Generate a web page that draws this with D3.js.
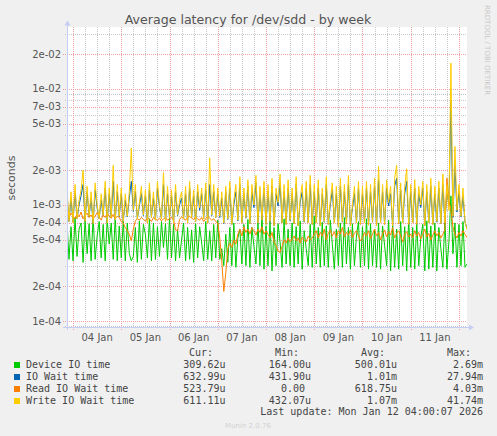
<!DOCTYPE html>
<html lang="en">
<head>
<meta charset="UTF-8">
<title>Average latency for /dev/sdd - by week</title>
<script src="https://d3js.org/d3.v7.min.js"></script>
<style>
  body { margin: 0; background: #f0f0f0; }
  svg { display: block; }
  text { font-family: "DejaVu Sans", sans-serif; fill: #555; }
  .mono { font-family: "DejaVu Sans Mono", monospace; font-size: 10px; fill: #444; white-space: pre; }
</style>
</head>
<body>
<script>
// time range of the graph, one sample per hour
const startTime = new Date(2026, 0, 3, 21);
const endTime = new Date(2026, 0, 12, 4);

// hourly averages in microseconds (Jan 3 21:00 .. Jan 12 04:00)
const deviceIO = [
  720, 340, 650,
  330, 780, 360, 620, 700, 320, 760, 380, 690, 330, 800, 340, 540, 720, 350, 680, 330, 750, 460, 700, 340, 790, 330, 660,
  350, 740, 330, 700, 380, 330, 360, 640, 320, 730, 340, 680, 560, 350, 760, 330, 700, 340, 650, 360, 720, 430, 690, 340,
  770, 350, 680, 330, 620, 350, 500, 700, 330, 640, 340, 610, 320, 690, 350, 650, 470, 330, 720, 340, 600, 330, 680, 350,
  740, 340, 420, 300, 560, 320, 640, 300, 700, 290, 520, 620, 310, 680, 300, 750, 290, 640, 440, 310, 700, 300, 820, 280,
  660, 300, 720, 270, 640, 300, 690, 480, 290, 760, 310, 620, 300, 700, 290, 650, 310, 730, 280, 600, 420, 300, 680, 290,
  800, 310, 640, 290, 710, 300, 660, 290, 740, 460, 280, 620, 300, 700, 290, 780, 310, 640, 280, 690, 300, 540, 720, 290,
  650, 300, 760, 280, 690, 300, 620, 290, 700, 280, 660, 450, 300, 740, 270, 680, 290, 620, 280, 720, 300, 650, 270, 760,
  290, 640, 280, 700, 300, 520, 680, 270, 730, 280, 660, 290, 700, 270, 640, 420, 290, 740, 280, 480, 1200, 380, 700, 290,
  680, 300, 720, 290, 310
];
const ioWait = [
  1250, 720, 1150,
  710, 1300, 760, 1000, 1200, 1500, 720, 1300, 790, 1150, 690, 1350, 940, 760, 1100, 810, 1400, 700, 1250, 770, 1600, 740, 1300, 790,
  1250, 720, 1100, 790, 1150, 1600, 880, 1300, 760, 980, 1250, 810, 1200, 700, 1350, 780, 1150, 740, 1400, 950, 760, 1500, 720, 1250,
  780, 1200, 700, 1300, 810, 1000, 1150, 760, 1250, 700, 1400, 780, 1200, 720, 1300, 900, 1250, 760, 1350, 700, 1500, 810, 1300, 780,
  1250, 780, 1150, 690, 1300, 750, 1400, 680, 1000, 1300, 730, 1500, 700, 1250, 770, 1450, 690, 1300, 950, 1550, 700, 1250, 740, 1400,
  680, 1300, 710, 1450, 660, 1250, 980, 1550, 700, 1300, 680, 1400, 730, 1250, 690, 1500, 660, 1050, 1300, 710, 1400, 700, 1500, 680,
  1300, 700, 1400, 660, 1250, 710, 1500, 680, 1000, 1350, 700, 1250, 650, 1450, 710, 1300, 690, 1500, 660, 940, 1250, 700, 1400, 680,
  1250, 700, 1400, 670, 1300, 710, 1450, 660, 1650, 700, 1300, 680, 1400, 980, 1250, 660, 1450, 1700, 690, 1350, 700, 1250, 1600, 680,
  1300, 700, 1400, 680, 1250, 950, 1400, 660, 1300, 700, 1450, 680, 1250, 710, 1400, 690, 1500, 700, 1300, 1000, 8000, 780, 2200, 870,
  1300, 790, 1200, 710, 633
];
const readWait = [
  820, 780, 850,
  800, 760, 840, 790, 870, 760, 810, 850, 780, 820, 760, 800, 860, 790, 740, 820, 780, 850, 800, 770, 830, 760, 800, 780,
  720, 700, 640, 600, 560, 490, 620, 730, 760, 740, 780, 750, 730, 770, 760, 720, 780, 750, 740, 770, 730, 760, 780, 740,
  760, 780, 740, 610, 600, 750, 790, 760, 740, 780, 800, 770, 750, 790, 760, 740, 780, 720, 760, 800, 770, 740, 760, 720,
  700, 520, 330, 180, 260, 420, 470, 430, 500, 460, 560, 620, 540, 650, 580, 620, 560, 640, 600, 550, 620, 580, 650, 560,
  600, 560, 520, 580, 480, 450, 400, 390, 440, 500, 470, 520, 480, 510, 540, 490, 520, 470, 530, 500, 480, 540, 500, 520,
  560, 600, 520, 580, 540, 620, 500, 570, 610, 540, 590, 520, 600, 560, 640, 530, 580, 550, 610, 520, 570, 600, 540, 490,
  520, 580, 540, 600, 510, 560, 620, 540, 580, 500, 560, 610, 530, 590, 550, 640, 520, 570, 600, 540, 480, 560, 590, 530,
  560, 520, 600, 540, 580, 510, 560, 620, 530, 570, 500, 550, 600, 540, 580, 520, 560, 610, 1700, 1100, 900, 650, 560, 520,
  580, 540, 600, 560, 524
];
const writeWait = [
  1400, 720, 1300,
  700, 1500, 760, 1100, 1350, 2000, 720, 1450, 800, 1300, 690, 1550, 1000, 760, 1250, 820, 1600, 700, 1400, 780, 2200, 740, 1500, 800,
  1400, 720, 1250, 800, 1300, 3100, 900, 1500, 760, 1050, 1450, 820, 1350, 700, 1550, 780, 1300, 740, 1600, 1000, 760, 1900, 720, 1450,
  780, 1350, 700, 1500, 820, 1100, 1300, 760, 1450, 700, 1600, 780, 1350, 720, 1500, 950, 1400, 760, 1550, 700, 2550, 820, 1500, 780,
  1400, 800, 1300, 700, 1450, 760, 1600, 680, 1100, 1500, 740, 1750, 700, 1400, 780, 1650, 690, 1500, 1000, 1800, 700, 1450, 740, 1600,
  680, 1500, 720, 1700, 660, 1400, 1050, 1850, 700, 1500, 680, 1650, 740, 1400, 690, 1750, 660, 1150, 1500, 720, 1600, 700, 1800, 680,
  1500, 700, 1650, 660, 1400, 720, 1750, 680, 1100, 1550, 700, 1450, 650, 1700, 720, 1500, 690, 1800, 660, 1000, 1450, 700, 1600, 680,
  1450, 700, 1600, 670, 1500, 720, 1700, 660, 2150, 700, 1500, 680, 1650, 1050, 1450, 660, 1700, 2200, 690, 1550, 700, 1450, 2050, 680,
  1500, 700, 1650, 680, 1450, 1000, 1600, 660, 1500, 700, 1700, 680, 1450, 720, 1600, 690, 1850, 700, 1500, 900, 16700, 800, 3200, 900,
  1500, 800, 1400, 720, 611
];

const seriesNames = ["Device IO time", "IO Wait time", "Read IO Wait time", "Write IO Wait time"];
const seriesColors = ["#00cc00", "#0066b3", "#ff8000", "#ffcc00"];
const curValues = ["309.62u", "632.99u", "523.79u", "611.11u"];
const minValues = ["164.00u", "431.90u", "0.00 ", "432.07u"];
const avgValues = ["500.01u", "1.01m", "618.75u", "1.07m"];
const maxValues = ["2.69m", "27.94m", "4.03m", "41.74m"];
const yTickValues = [2e-2, 1e-2, 7e-3, 5e-3, 2e-3, 1e-3, 7e-4, 5e-4, 2e-4, 1e-4];

const W = 497, H = 436;
const plot = {left: 67, right: 467, top: 27, bottom: 327};

const svg = d3.select("body").append("svg")
    .attr("width", W)
    .attr("height", H);

svg.append("rect").attr("width", W).attr("height", H).attr("fill", "#f0f0f0");
svg.append("rect")
    .attr("x", plot.left).attr("y", plot.top)
    .attr("width", plot.right - plot.left).attr("height", plot.bottom - plot.top)
    .attr("fill", "#fff");

const x = d3.scaleTime().domain([startTime, endTime]).range([plot.left, plot.right]);
const y = d3.scaleLog().domain([8.88e-5, 3.42e-2]).range([plot.bottom, plot.top]);

// horizontal grid
const minorY = [];
for (let e = -5; e <= -2; e++) {
    for (let k = 1; k <= 9; k++) {
        const v = k * Math.pow(10, e);
        if (v >= y.domain()[0] && v <= y.domain()[1] && ![1, 2, 5, 7].includes(k)) minorY.push(v);
    }
}
const grid = svg.append("g").attr("fill", "none").attr("stroke-width", 1).attr("stroke-dasharray", "1,1");
grid.selectAll(".hmin").data(minorY).enter().append("line")
    .attr("x1", plot.left - 2).attr("x2", plot.right)
    .attr("y1", d => Math.round(y(d)) + 0.5).attr("y2", d => Math.round(y(d)) + 0.5)
    .attr("stroke", "#c8c8c8");

// vertical grid
const sixHours = d3.timeHour.every(6).range(startTime, endTime).filter(d => d.getHours() !== 0);
const midnights = d3.timeDay.range(startTime, endTime);
grid.selectAll(".vmin").data(sixHours).enter().append("line")
    .attr("x1", d => Math.round(x(d)) + 0.5).attr("x2", d => Math.round(x(d)) + 0.5)
    .attr("y1", plot.top).attr("y2", plot.bottom + 2)
    .attr("stroke", "#c8c8c8");
grid.selectAll(".hmaj").data(yTickValues).enter().append("line")
    .attr("x1", plot.left - 4).attr("x2", plot.right)
    .attr("y1", d => Math.round(y(d)) + 0.5).attr("y2", d => Math.round(y(d)) + 0.5)
    .attr("stroke", "#f0a0a0");
grid.selectAll(".vmaj").data(midnights).enter().append("line")
    .attr("x1", d => Math.round(x(d)) + 0.5).attr("x2", d => Math.round(x(d)) + 0.5)
    .attr("y1", plot.top).attr("y2", plot.bottom + 3)
    .attr("stroke", "#f0a0a0");

// y labels
svg.append("g").selectAll("text").data(yTickValues).enter().append("text")
    .attr("x", 61).attr("y", d => y(d) + 3.5)
    .attr("text-anchor", "end")
    .attr("font-size", 10)
    .text(d => d3.format(".0e")(d).replace(/e([+-])(\d)$/, "e$10$2"));

// x labels at noon, only where noon lies inside the range
const noons = midnights.map(d => d3.timeHour.offset(d, 12)).filter(d => d > startTime && d < endTime);
svg.append("g").selectAll("text").data(noons).enter().append("text")
    .attr("x", d => x(d))
    .attr("y", 341)
    .attr("text-anchor", "middle")
    .attr("font-size", 10)
    .text(d => d3.timeFormat("%d %b")(d));

// series
svg.append("clipPath").attr("id", "clip").append("rect")
    .attr("x", plot.left).attr("y", plot.top)
    .attr("width", plot.right - plot.left).attr("height", plot.bottom - plot.top);

const line = d3.line()
    .x((d, i) => x(d3.timeHour.offset(startTime, i)))
    .y(d => y(d * 1e-6));

const lines = svg.append("g").attr("clip-path", "url(#clip)");
[deviceIO, ioWait, readWait, writeWait].forEach((s, i) => {
    lines.append("path")
        .datum(s)
        .attr("fill", "none")
        .attr("stroke", seriesColors[i])
        .attr("stroke-width", 1)
        .attr("d", line);
});

// axes with arrows
const axisColor = "#c6cdf5";
svg.append("line").attr("x1", plot.left + 0.5).attr("x2", plot.left + 0.5)
    .attr("y1", plot.bottom + 3).attr("y2", 22).attr("stroke", axisColor);
svg.append("line").attr("x1", plot.left - 4).attr("x2", plot.right + 4)
    .attr("y1", plot.bottom + 0.5).attr("y2", plot.bottom + 0.5).attr("stroke", axisColor);
svg.append("path").attr("d", `M${plot.left - 2.5},25.5 L${plot.left + 3.5},25.5 L${plot.left + 0.5},20.5 Z`).attr("fill", axisColor);
svg.append("path").attr("d", `M${plot.right + 2},${plot.bottom - 2.5} L${plot.right + 2},${plot.bottom + 3.5} L${plot.right + 7},${plot.bottom + 0.5} Z`).attr("fill", axisColor);

// title and side texts
svg.append("text").attr("x", 248).attr("y", 24).attr("text-anchor", "middle")
    .attr("font-size", 12.6).text("Average latency for /dev/sdd - by week");
svg.append("text").attr("transform", "translate(15,178) rotate(-90)").attr("text-anchor", "middle")
    .attr("font-size", 11).text("seconds");
svg.append("text").attr("transform", "translate(485,5) rotate(90)").attr("text-anchor", "start")
    .attr("font-size", 7).style("fill", "#c8c8c8").text("RRDTOOL / TOBI OETIKER");

// legend
const legend = svg.append("g");
const headerY = 356;
[["Cur:", 213], ["Min:", 299], ["Avg:", 385], ["Max:", 471]].forEach(h => {
    legend.append("text").attr("class", "mono").attr("x", h[1]).attr("y", headerY)
        .attr("text-anchor", "end").text(h[0]);
});
seriesNames.forEach((name, i) => {
    const by = 368 + i * 12;
    legend.append("rect").attr("x", 14).attr("y", by - 6).attr("width", 6).attr("height", 6)
        .attr("fill", seriesColors[i]);
    legend.append("text").attr("class", "mono").attr("x", 26).attr("y", by).text(name);
    [[curValues, 225.5], [minValues, 311], [avgValues, 397], [maxValues, 483]].forEach(c => {
        legend.append("text").attr("class", "mono").attr("xml:space", "preserve")
            .attr("x", c[1]).attr("y", by).attr("text-anchor", "end").text(c[0][i]);
    });
});
legend.append("text").attr("class", "mono").attr("x", 483).attr("y", 415)
    .attr("text-anchor", "end").text("Last update: Mon Jan 12 04:00:07 2026");
svg.append("text").attr("x", 248).attr("y", 428).attr("text-anchor", "middle")
    .attr("font-size", 7).style("fill", "#d0d0d0").text("Munin 2.0.76");
</script>
</body>
</html>
